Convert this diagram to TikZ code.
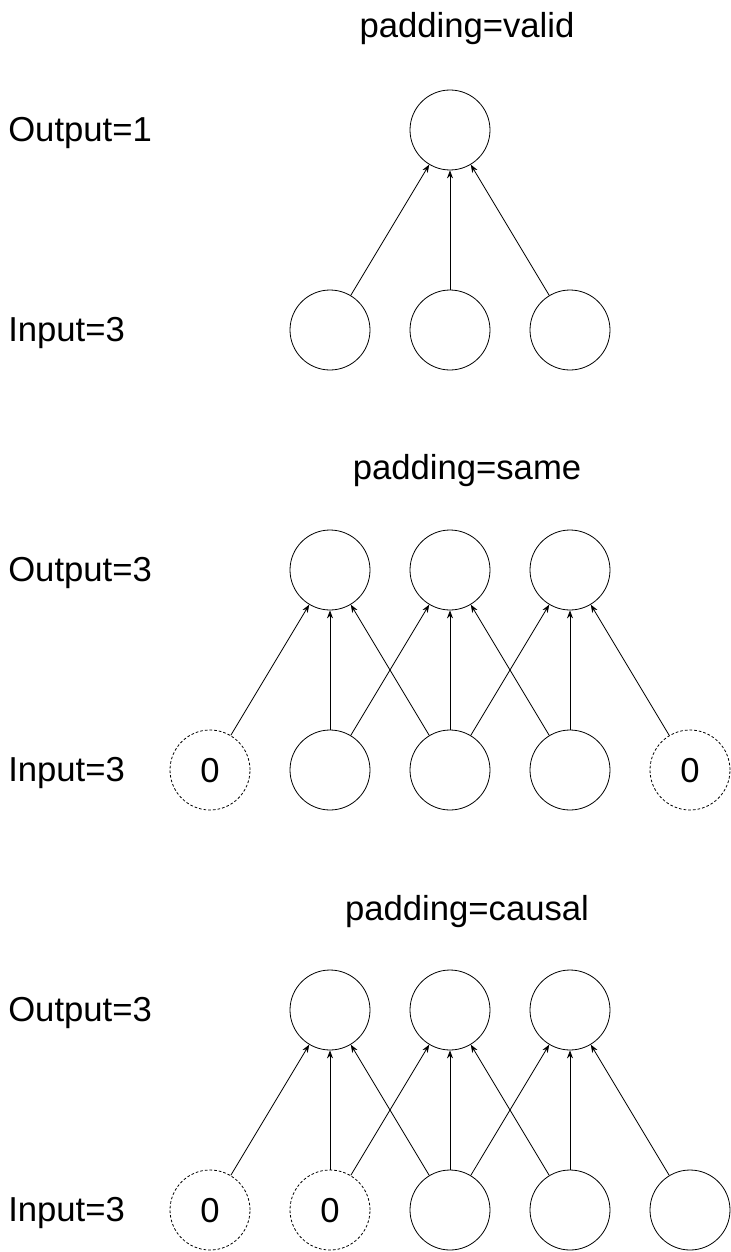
\documentclass[tikz,border=0pt]{standalone}
\usepackage{fontspec}
\setmainfont{Liberation Sans}
\usetikzlibrary{positioning,arrows.meta}

\begin{document}
\begin{tikzpicture}[x=0.75pt,y=-0.75pt,on grid,node distance=90pt,
		font=\fontsize{26}{30}\selectfont,
		neuron/.style={circle,draw,line width=0.6pt,minimum size=60pt,inner sep=0pt},
		pad/.style={neuron,dash pattern=on 2pt off 1.5pt,text depth=0pt},
		lbl/.style={anchor=west,inner sep=0pt,yshift=-2.5pt},
		title/.style={yshift=-2.5pt},
		>={Stealth[length=6pt,width=4.5pt]}]
		\useasboundingbox (0,0) rectangle (731,1252);

		% padding=valid
		\node[title] (ValidTitle) at (467,25) {padding=valid};
		\node[lbl] (ValidOutLbl) at (8,130) {Output=1};
		\node[lbl] (ValidInLbl) at (8,330) {Input=3};
		\node[neuron] (ValidOut) at (450,130) {};
		\node[neuron] (ValidInB) at (450,330) {};
		\node[neuron] (ValidInA) [left=of ValidInB] {};
		\node[neuron] (ValidInC) [right=of ValidInB] {};

		\path[->,line width=0.6pt]
		(ValidInA) edge (ValidOut)
		(ValidInB) edge (ValidOut)
		(ValidInC) edge (ValidOut);

		% padding=same
		\node[title] (SameTitle) at (467,467) {padding=same};
		\node[lbl] (SameOutLbl) at (8,570) {Output=3};
		\node[lbl] (SameInLbl) at (8,770) {Input=3};
		\node[neuron] (SameOutB) at (450,570) {};
		\node[neuron] (SameOutA) [left=of SameOutB] {};
		\node[neuron] (SameOutC) [right=of SameOutB] {};
		\node[neuron] (SameInC) at (450,770) {};
		\node[neuron] (SameInB) [left=of SameInC] {};
		\node[pad] (SameInA) [left=of SameInB] {0};
		\node[neuron] (SameInD) [right=of SameInC] {};
		\node[pad] (SameInE) [right=of SameInD] {0};

		\path[->,line width=0.6pt]
		(SameInA) edge (SameOutA)
		(SameInB) edge (SameOutA)
				  edge (SameOutB)
		(SameInC) edge (SameOutA)
				  edge (SameOutB)
				  edge (SameOutC)
		(SameInD) edge (SameOutB)
				  edge (SameOutC)
		(SameInE) edge (SameOutC);

		% padding=causal
		\node[title] (CausalTitle) at (467,908) {padding=causal};
		\node[lbl] (CausalOutLbl) at (8,1010) {Output=3};
		\node[lbl] (CausalInLbl) at (8,1210) {Input=3};
		\node[neuron] (CausalOutB) at (450,1010) {};
		\node[neuron] (CausalOutA) [left=of CausalOutB] {};
		\node[neuron] (CausalOutC) [right=of CausalOutB] {};
		\node[neuron] (CausalInC) at (450,1210) {};
		\node[pad] (CausalInB) [left=of CausalInC] {0};
		\node[pad] (CausalInA) [left=of CausalInB] {0};
		\node[neuron] (CausalInD) [right=of CausalInC] {};
		\node[neuron] (CausalInE) [right=of CausalInD] {};

		\path[->,line width=0.6pt]
		(CausalInA) edge (CausalOutA)
		(CausalInB) edge (CausalOutA)
					edge (CausalOutB)
		(CausalInC) edge (CausalOutA)
					edge (CausalOutB)
					edge (CausalOutC)
		(CausalInD) edge (CausalOutB)
					edge (CausalOutC)
		(CausalInE) edge (CausalOutC);

\end{tikzpicture}
\end{document}
